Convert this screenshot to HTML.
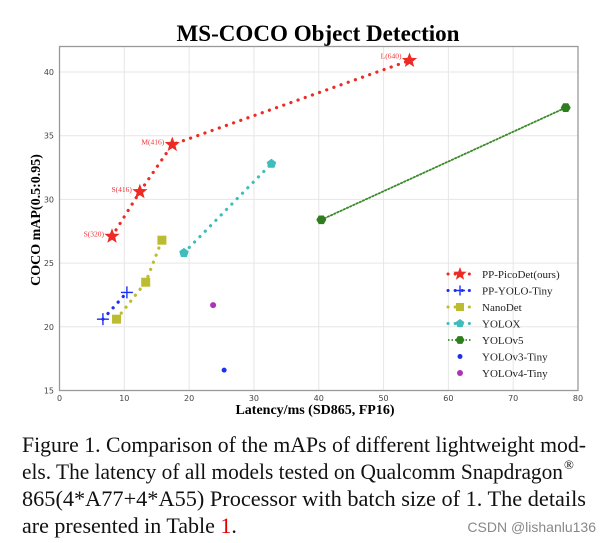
<!DOCTYPE html>
<html><head><meta charset="utf-8"><style>
html,body{margin:0;padding:0;background:#fff;width:611px;height:543px;overflow:hidden}
svg{display:block}
</style></head><body>
<svg id="chart" width="611" height="543" viewBox="0 0 611 543" xmlns="http://www.w3.org/2000/svg" font-family="'Liberation Serif', serif">
<text x="318" y="41" text-anchor="middle" font-size="23" font-weight="bold" textLength="283" lengthAdjust="spacingAndGlyphs">MS-COCO Object Detection</text>
<g id="grid"></g>
<rect x="59.5" y="46.5" width="518.5" height="344" fill="none" stroke="#999" stroke-width="1.3"/>
<g id="ticks" font-family="'DejaVu Sans', sans-serif" font-size="8" fill="#444"></g>
<g id="marks"></g>
<text transform="translate(40,220) rotate(-90)" text-anchor="middle" font-size="14" font-weight="bold">COCO mAP(0.5:0.95)</text>
<text x="315" y="414" text-anchor="middle" font-size="14" font-weight="bold">Latency/ms (SD865, FP16)</text>
<g id="legend" font-size="11" fill="#222"></g>
<g font-size="22" fill="#111">
<text x="22" y="452" textLength="564" lengthAdjust="spacingAndGlyphs">Figure 1. Comparison of the mAPs of different lightweight mod-</text>
<text x="22" y="479" textLength="541" lengthAdjust="spacingAndGlyphs">els. The latency of all models tested on Qualcomm Snapdragon</text>
<text x="564" y="469" font-size="13">®</text>
<text x="22" y="506" textLength="564" lengthAdjust="spacingAndGlyphs">865(4*A77+4*A55) Processor with batch size of 1. The details</text>
<text x="22" y="533">are presented in Table <tspan fill="#e00000">1</tspan>.</text>
</g>
<text x="596" y="532" text-anchor="end" font-family="'Liberation Sans', sans-serif" font-size="14" fill="#888">CSDN @lishanlu136</text>
</svg>
<script>
const xTicks=[0,10,20,30,40,50,60,70,80];
const yTicks=[15,20,25,30,35,40];
const picoX=[8.1,12.4,17.4,54.0];
const picoY=[27.1,30.6,34.3,40.9];
const picoLabels=["S(320)","S(416)","M(416)","L(640)"];
const ppyX=[6.7,10.4];
const ppyY=[20.6,22.7];
const nanoX=[8.8,13.3,15.8];
const nanoY=[20.6,23.5,26.8];
const yoloxX=[19.2,32.7];
const yoloxY=[25.8,32.8];
const v5X=[40.4,78.1];
const v5Y=[28.4,37.2];
const v3X=[25.4];
const v3Y=[16.6];
const v4X=[23.7];
const v4Y=[21.7];
const legendNames=["PP-PicoDet(ours)","PP-YOLO-Tiny","NanoDet","YOLOX","YOLOv5","YOLOv3-Tiny","YOLOv4-Tiny"];

const NS="http://www.w3.org/2000/svg";
const X=v=>59.5+(v-0)*(578-59.5)/80;
const Y=v=>390.5-(v-15)*(390.5-72)/25;
function mk(tag,attrs,parent){const e=document.createElementNS(NS,tag);for(const k in attrs)e.setAttribute(k,attrs[k]);parent.appendChild(e);return e;}
const grid=document.getElementById('grid'),ticks=document.getElementById('ticks'),marks=document.getElementById('marks'),legend=document.getElementById('legend');
xTicks.forEach(t=>{
  const l=mk('line',{x1:X(t),x2:X(t),y1:46.5,y2:390.5,stroke:'#e6e6e6'},grid);
  
  
  const tx=mk('text',{x:X(t),y:401,'text-anchor':'middle'},ticks);tx.textContent=t;
  
  
});
yTicks.forEach(t=>{
  const l=mk('line',{x1:59.5,x2:578,y1:Y(t),y2:Y(t),stroke:'#e6e6e6'},grid);
  
  
  const tx=mk('text',{x:54,y:Y(t)+3,'text-anchor':'end'},ticks);tx.textContent=t;
  
  
});
function line(xs,ys,color,w,dash,name){
  const p=mk('polyline',{points:xs.map((x,i)=>X(x)+','+Y(ys[i])).join(' '),fill:'none',stroke:color,'stroke-width':w,'stroke-dasharray':dash,'stroke-linecap':'round'},marks);
  
  
}
function star(cx,cy,r,color,parent){
  let pts=[];for(let i=0;i<10;i++){const a=-Math.PI/2+i*Math.PI/5;const rr=i%2?r*0.42:r;pts.push((cx+rr*Math.cos(a)).toFixed(1)+','+(cy+rr*Math.sin(a)).toFixed(1));}
  return mk('polygon',{points:pts.join(' '),fill:color},parent);
}
function plus(cx,cy,r,color,parent){
  return mk('path',{d:`M${cx-r},${cy}H${cx+r}M${cx},${cy-r}V${cy+r}`,stroke:color,'stroke-width':1.4},parent);
}
function square(cx,cy,r,color,parent){return mk('rect',{x:cx-r,y:cy-r,width:2*r,height:2*r,fill:color},parent);}
function poly(cx,cy,r,n,color,parent,rot){let pts=[];for(let i=0;i<n;i++){const a=rot+i*2*Math.PI/n;pts.push((cx+r*Math.cos(a)).toFixed(1)+','+(cy+r*Math.sin(a)).toFixed(1));}return mk('polygon',{points:pts.join(' '),fill:color},parent);}
function circ(cx,cy,r,color,parent){return mk('circle',{cx:cx,cy:cy,r:r,fill:color},parent);}

line(picoX,picoY,'#ee2a24',3.2,'0.1 7.5','picodet-line');
line(ppyX,ppyY,'#1d2ff0',3.2,'0.1 7.5','pp-yolo-tiny-line');
line(nanoX,nanoY,'#bcbc30',3.2,'0.1 7.5','nanodet-line');
line(yoloxX,yoloxY,'#3fbcbc',3.2,'0.1 7.5','yolox-line');
line(v5X,v5Y,'#3a8a2a',1.8,'1.5 2','yolov5-line');

picoX.forEach((x,i)=>{
  const s=star(X(x),Y(picoY[i]),8,'#ee2a24',marks);
  
  
  const t=mk('text',{x:X(x)-8,y:Y(picoY[i])-(i==3?2:0),'text-anchor':'end','font-size':'7.5',fill:'#ee3333'},marks);t.textContent=picoLabels[i];
  
  
});
ppyX.forEach((x,i)=>{const e=plus(X(x),Y(ppyY[i]),6,'#1d2ff0',marks);
  
  });
nanoX.forEach((x,i)=>{const e=square(X(x),Y(nanoY[i]),4.5,'#bcbc30',marks);
  
  });
yoloxX.forEach((x,i)=>{const e=poly(X(x),Y(yoloxY[i]),5,5,'#3fbcbc',marks,-Math.PI/2);
  
  });
v5X.forEach((x,i)=>{const e=poly(X(x),Y(v5Y[i]),5,6,'#2e7d1e',marks,0);
  
  });
v3X.forEach((x,i)=>{const e=circ(X(x),Y(v3Y[i]),2.5,'#1d2ff0',marks);
  
  });
v4X.forEach((x,i)=>{const e=circ(X(x),Y(v4Y[i]),3,'#b030b8',marks);
  
  });

const lx=460,ly0=274,ld=16.5;
legendNames.forEach((n,i)=>{
  const y=ly0+i*ld;
  const g=mk('g',{},legend);
  
  
  const cols=['#ee2a24','#1d2ff0','#bcbc30','#3fbcbc','#3a8a2a'];
  if(i<4) mk('line',{x1:lx-12,x2:lx+12,y1:y,y2:y,stroke:cols[i],'stroke-width':3,'stroke-dasharray':'0.1 7','stroke-linecap':'round'},g);
  if(i==4) mk('line',{x1:lx-12,x2:lx+12,y1:y,y2:y,stroke:cols[i],'stroke-width':1.8,'stroke-dasharray':'1.5 2'},g);
  if(i==0) star(lx,y,7,cols[0],g);
  if(i==1) plus(lx,y,5,cols[1],g);
  if(i==2) square(lx,y,4,cols[2],g);
  if(i==3) poly(lx,y,4.5,5,cols[3],g,-Math.PI/2);
  if(i==4) poly(lx,y,4.5,6,'#2e7d1e',g,0);
  if(i==5) circ(lx,y,2.5,'#1d2ff0',g);
  if(i==6) circ(lx,y,3,'#b030b8',g);
  const t=mk('text',{x:482,y:y+4},g);t.textContent=n;
});
</script>
</body></html>
